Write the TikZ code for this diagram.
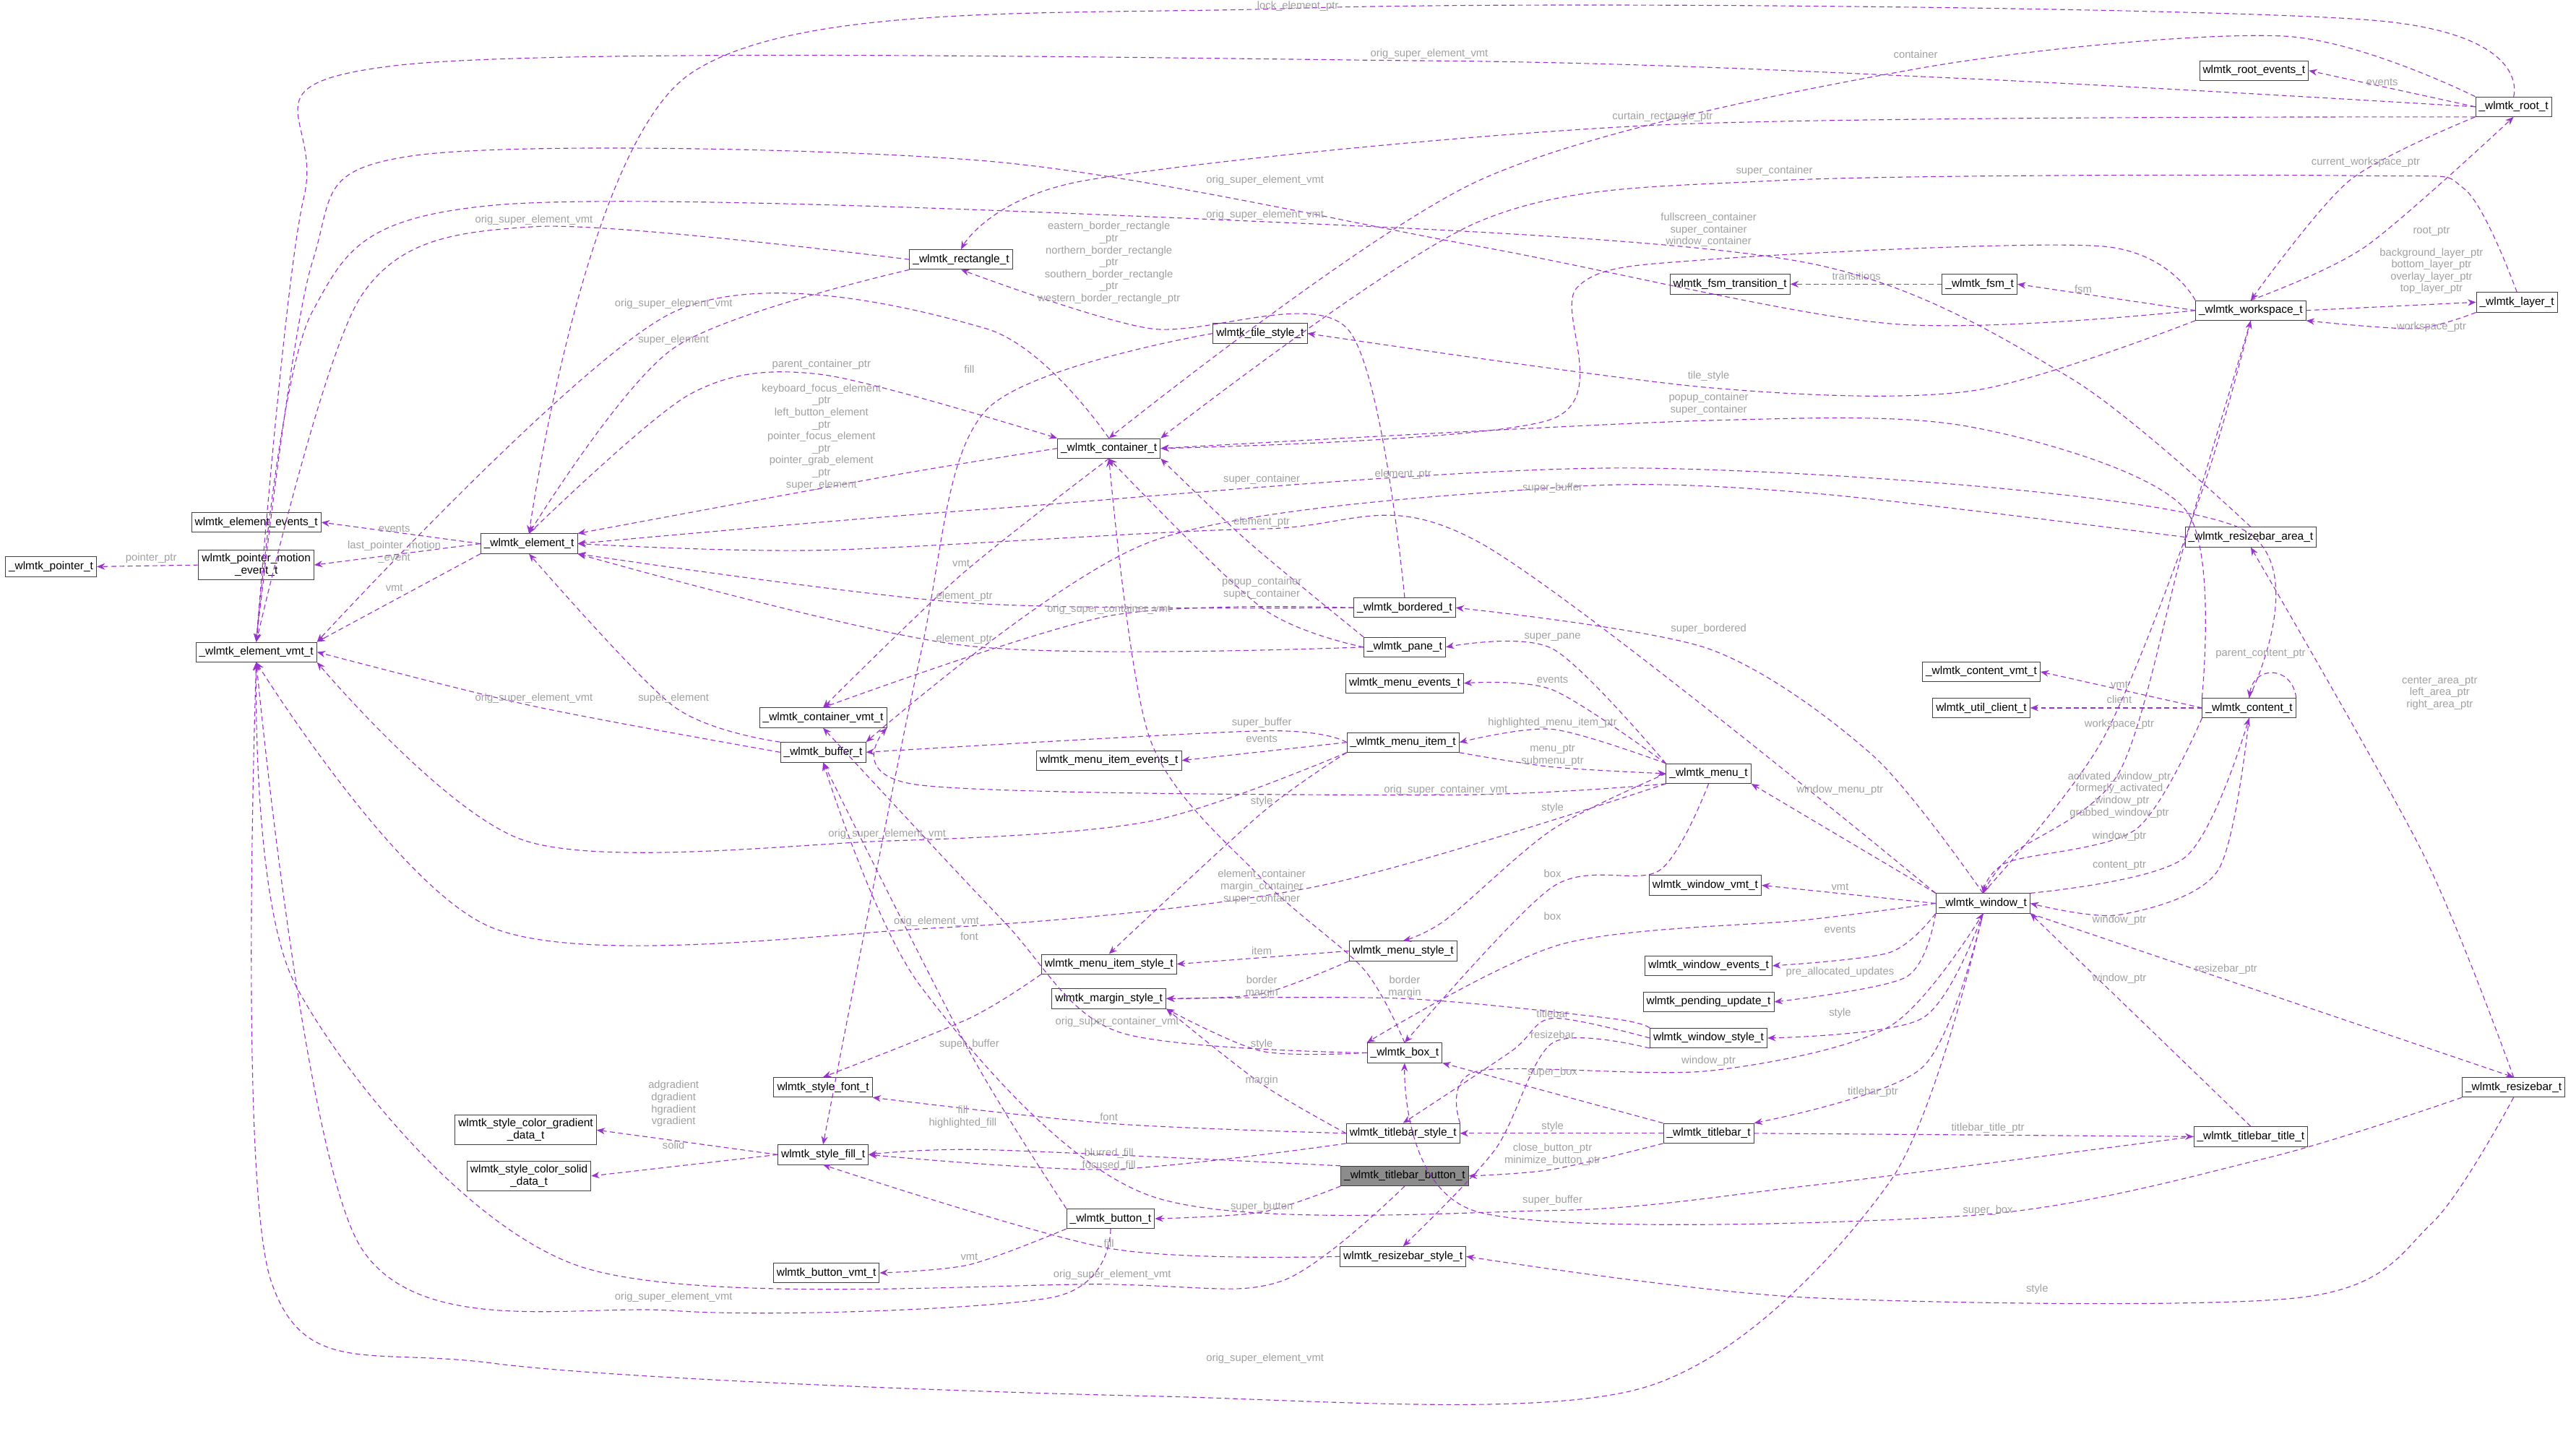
\documentclass[tikz,border=0pt]{standalone}
\usepackage{fontspec}
\setmainfont{Liberation Sans}
\usetikzlibrary{arrows.meta}
\definecolor{edgec}{HTML}{9A32CD}
\definecolor{lblc}{HTML}{A0A0A0}
\newcounter{lbc}
\newcommand\EL[2]{\stepcounter{lbc}\node[lbl] (lab\thelbc) at (#1) {#2};}
\tikzset{
 cls/.style={draw=black!75,fill=white,inner sep=2pt,minimum height=12pt,font=\fontsize{6.8}{7.6}\selectfont,align=center},
 lbl/.style={text=lblc,font=\fontsize{6.5}{7.3}\selectfont,align=center,inner sep=0pt},
 e/.style={draw=edgec,dashed,dash pattern=on 3pt off 2pt,line width=0.5pt,-{Stealth[length=5pt,width=4pt]}},
}
\begin{document}
\begin{tikzpicture}[x=1pt,y=-1pt]
\useasboundingbox (0,0) rectangle (1568,876);
% nodes
\node[cls] (root) at (1530,65) {\_wlmtk\_root\_t};
\node[cls] (rootev) at (1372,43) {wlmtk\_root\_events\_t};
\node[cls] (layer) at (1532,184) {\_wlmtk\_layer\_t};
\node[cls] (ws) at (1370,189) {\_wlmtk\_workspace\_t};
\node[cls] (fsm) at (1205,173) {\_wlmtk\_fsm\_t};
\node[cls] (fsmt) at (1053,173) {wlmtk\_fsm\_transition\_t};
\node[cls] (rba) at (1370,327) {\_wlmtk\_resizebar\_area\_t};
\node[cls] (cvmt) at (1206,409) {\_wlmtk\_content\_vmt\_t};
\node[cls] (ucl) at (1206,431) {wlmtk\_util\_client\_t};
\node[cls] (content) at (1369,431) {\_wlmtk\_content\_t};
\node[cls] (win) at (1207,550) {\_wlmtk\_window\_t};
\node[cls] (wvmt) at (1038,539) {wlmtk\_window\_vmt\_t};
\node[cls] (wev) at (1040,588) {wlmtk\_window\_events\_t};
\node[cls] (pend) at (1040,610) {wlmtk\_pending\_update\_t};
\node[cls] (wsty) at (1040,632) {wlmtk\_window\_style\_t};
\node[cls] (menu) at (1040,471) {\_wlmtk\_menu\_t};
\node[cls] (mitem) at (854,452) {\_wlmtk\_menu\_item\_t};
\node[cls] (msty) at (854,579) {wlmtk\_menu\_style\_t};
\node[cls] (box) at (855,641) {\_wlmtk\_box\_t};
\node[cls] (tbsty) at (854,690) {wlmtk\_titlebar\_style\_t};
\node[cls] (tbar) at (1040,690) {\_wlmtk\_titlebar\_t};
\node[cls,fill=black!45] (tbtn) at (855,716) {\_wlmtk\_titlebar\_button\_t};
\node[cls] (tbtitle) at (1370,692) {\_wlmtk\_titlebar\_title\_t};
\node[cls] (rbar) at (1530,662) {\_wlmtk\_resizebar\_t};
\node[cls] (rbsty) at (854,765) {wlmtk\_resizebar\_style\_t};
\node[cls] (btn) at (676,742) {\_wlmtk\_button\_t};
\node[cls] (btnvmt) at (503,775) {wlmtk\_button\_vmt\_t};
\node[cls] (fill) at (501,703) {wlmtk\_style\_fill\_t};
\node[cls] (font) at (501,662) {wlmtk\_style\_font\_t};
\node[cls] (grad) at (320,688) {wlmtk\_style\_color\_gradient\\\_data\_t};
\node[cls] (solid) at (322,716) {wlmtk\_style\_color\_solid\\\_data\_t};
\node[cls] (margin) at (675,608) {wlmtk\_margin\_style\_t};
\node[cls] (mistyle) at (675,587) {wlmtk\_menu\_item\_style\_t};
\node[cls] (miev) at (675,463) {wlmtk\_menu\_item\_events\_t};
\node[cls] (buf) at (501,458) {\_wlmtk\_buffer\_t};
\node[cls] (cvmtc) at (501,437) {\_wlmtk\_container\_vmt\_t};
\node[cls] (bord) at (855,370) {\_wlmtk\_bordered\_t};
\node[cls] (pane) at (855,394) {\_wlmtk\_pane\_t};
\node[cls] (mev) at (855,416) {wlmtk\_menu\_events\_t};
\node[cls] (cont) at (675,273) {\_wlmtk\_container\_t};
\node[cls] (tile) at (767,203) {wlmtk\_tile\_style\_t};
\node[cls] (rect) at (585,158) {\_wlmtk\_rectangle\_t};
\node[cls] (el) at (322,331) {\_wlmtk\_element\_t};
\node[cls] (elev) at (156,318) {wlmtk\_element\_events\_t};
\node[cls] (pme) at (156,344) {wlmtk\_pointer\_motion\\\_event\_t};
\node[cls] (ptr) at (31,345) {\_wlmtk\_pointer\_t};
\node[cls] (evmt) at (156,397) {\_wlmtk\_element\_vmt\_t};
% edges
\draw[e] plot[smooth] coordinates {(root.north) (1440,12) (790,5) (420,45) (el.north)}; \EL{790,4}{lock\_element\_ptr}
\draw[e] plot[smooth] coordinates {(root.west) (1200,48) (870,37) (240,40) (185,120) (evmt.north)}; \EL{870,33}{orig\_super\_element\_vmt}
\draw[e] plot[smooth] coordinates {(root.north west) (1390,22) (1166,42) (900,110) (cont.north)}; \EL{1166,33}{container}
\draw[e] plot[smooth] coordinates {(root.south west) (1012,76) (660,110) (rect.north)}; \EL{1012,71}{curtain\_rectangle\_ptr}
\draw[e] (root.west) -- (rootev.east); \EL{1450,50}{events}
\draw[e] plot[smooth] coordinates {(ws.north) (1440,150) (root.south)}; \EL{1480,141}{root\_ptr}
\draw[e] plot[smooth] coordinates {(root.south west) (1430,110) (ws.north)}; \EL{1440,99}{current\_workspace\_ptr}
\draw[e] (ws.east) -- (layer.west); \EL{1480,165}{background\_layer\_ptr\\bottom\_layer\_ptr\\overlay\_layer\_ptr\\top\_layer\_ptr}
\draw[e] plot[smooth] coordinates {(layer.south west) (1470,200) (ws.south east)}; \EL{1480,199}{workspace\_ptr}
\draw[e] plot[smooth] coordinates {(layer.north) (1500,115) (1440,107) (1080,110) (900,135) (cont.north east)}; \EL{1080,104}{super\_container}
\draw[e] plot[smooth] coordinates {(ws.north west) (1280,150) (1040,158) (960,175) (945,255) (cont.east)}; \EL{1040,140}{fullscreen\_container\\super\_container\\window\_container}
\draw[e] (ws.west) -- (fsm.east); \EL{1268,176}{fsm}
\draw[e] (fsm.west) -- (fsmt.east); \EL{1130,168}{transitions}
\draw[e] plot[smooth] coordinates {(ws.west) (1150,197) (900,150) (600,98) (250,95) (190,160) (evmt.north)}; \EL{770,110}{orig\_super\_element\_vmt}
\draw[e] plot[smooth] coordinates {(ws.south west) (1200,238) (1040,236) (tile.east)}; \EL{1040,229}{tile\_style}
\draw[e] plot[smooth] coordinates {(rba.north) (1260,230) (1100,160) (770,135) (300,125) (190,190) (evmt.north)}; \EL{770,131}{orig\_super\_element\_vmt}
\draw[e] plot[smooth] coordinates {(content.north west) (1330,310) (1200,260) (1040,256) (cont.east)}; \EL{1040,246}{popup\_container\\super\_container}
\draw[e] plot[smooth] coordinates {(content.north) (1360,320) (1000,285) (600,310) (el.east)}; \EL{854,289}{element\_ptr}
\draw[e] plot[smooth] coordinates {(rba.west) (1100,300) (945,297) (700,330) (buf.north east)}; \EL{945,297}{super\_buffer}
\draw[e] plot[smooth] coordinates {(pane.north west) (760,330) (cont.south east)}; \EL{768,292}{super\_container}
\draw[e] plot[smooth] coordinates {(win.north west) (900,330) (768,322) (500,335) (el.east)}; \EL{768,318}{element\_ptr}
\draw[e] (content.west) -- (cvmt.east); \EL{1290,417}{vmt}
\draw[e] (content.west) -- (ucl.east); \EL{1290,426}{client}
\draw[e] (content.north east) .. controls (1395,405) and (1372,405) .. (content.north); \EL{1376,398}{parent\_content\_ptr}
\draw[e] plot[smooth] coordinates {(win.north) (1280,450) (1340,300) (ws.south)}; \EL{1290,441}{workspace\_ptr}
\draw[e] plot[smooth] coordinates {(ws.south) (1330,330) (1290,470) (1225,520) (win.north)}; \EL{1290,484}{activated\_window\_ptr\\formerly\_activated\\\_window\_ptr\\grabbed\_window\_ptr}
\draw[e] plot[smooth] coordinates {(content.south west) (1300,505) (1222,525) (win.north)}; \EL{1290,509}{window\_ptr}
\draw[e] plot[smooth] coordinates {(win.north east) (1330,522) (content.south)}; \EL{1290,527}{content\_ptr}
\draw[e] plot[smooth] coordinates {(content.south) (1350,530) (1290,557) (win.east)}; \EL{1290,560}{window\_ptr}
\draw[e] (win.south east) -- (rbar.north); \EL{1355,590}{resizebar\_ptr}
\draw[e] plot[smooth] coordinates {(rbar.north) (1475,520) (rba.south)}; \EL{1485,422}{center\_area\_ptr\\left\_area\_ptr\\right\_area\_ptr}
\draw[e] plot[smooth] coordinates {(rbar.south) (1480,745) (1400,790) (1100,790) (rbsty.east)}; \EL{1240,785}{style}
\draw[e] plot[smooth] coordinates {(rbar.south west) (1380,705) (1200,740) (900,738) (box.south)}; \EL{1210,737}{super\_box}
\draw[e] (tbtitle.north) -- (win.south east); \EL{1290,596}{window\_ptr}
\draw[e] plot[smooth] coordinates {(tbtitle.west) (1100,722) (945,737) (700,728) (560,600) (buf.south)}; \EL{945,731}{super\_buffer}
\draw[e] (tbar.east) -- (tbtitle.west); \EL{1210,687}{titlebar\_title\_ptr}
\draw[e] plot[smooth] coordinates {(win.south) (1170,650) (tbar.north east)}; \EL{1140,665}{titlebar\_ptr}
\draw[e] plot[smooth] coordinates {(tbsty.north east) (900,652) (1040,652) (1150,625) (win.south)}; \EL{1040,646}{window\_ptr}
\draw[e] (tbar.west) -- (tbsty.east); \EL{945,686}{style}
\draw[e] plot[smooth] coordinates {(tbar.south west) (945,712) (tbtn.east)}; \EL{945,703}{close\_button\_ptr\\minimize\_button\_ptr}
\draw[e] (tbar.north west) -- (box.south east); \EL{945,653}{super\_box}
\draw[e] (win.west) -- (wvmt.east); \EL{1120,540}{vmt}
\draw[e] plot[smooth] coordinates {(win.south west) (1150,580) (wev.east)}; \EL{1120,566}{events}
\draw[e] plot[smooth] coordinates {(win.south west) (1160,595) (pend.east)}; \EL{1120,592}{pre\_allocated\_updates}
\draw[e] plot[smooth] coordinates {(win.south) (1170,620) (wsty.east)}; \EL{1120,617}{style}
\draw[e] plot[smooth] coordinates {(win.west) (1100,560) (950,575) (box.north west)}; \EL{945,558}{box}
\draw[e] (win.north west) -- (menu.south east); \EL{1120,481}{window\_menu\_ptr}
\draw[e] plot[smooth] coordinates {(win.north) (1140,460) (1040,395) (bord.east)}; \EL{1040,383}{super\_bordered}
\draw[e] plot[smooth] coordinates {(win.south) (1150,720) (1000,845) (700,850) (300,830) (165,780) (evmt.south)}; \EL{770,827}{orig\_super\_element\_vmt}
\draw[e] plot[smooth] coordinates {(wsty.west) (945,620) (920,640) (tbsty.north)}; \EL{945,617}{titlebar}
\draw[e] plot[smooth] coordinates {(wsty.south west) (945,635) (910,700) (rbsty.north)}; \EL{945,630}{resizebar}
\draw[e] plot[smooth] coordinates {(wsty.north west) (980,620) (855,608) (margin.east)}; \EL{855,601}{border\\margin}
\draw[e] plot[smooth] coordinates {(menu.west) (945,505) (880,560) (msty.north)}; \EL{945,492}{style}
\draw[e] plot[smooth] coordinates {(mitem.south west) (768,495) (mistyle.north)}; \EL{768,488}{style}
\draw[e] (msty.west) -- (mistyle.east); \EL{768,579}{item}
\draw[e] plot[smooth] coordinates {(msty.south west) (768,605) (margin.east)}; \EL{768,601}{border\\margin}
\draw[e] plot[smooth] coordinates {(menu.south) (1010,530) (945,540) (box.north)}; \EL{945,532}{box}
\draw[e] plot[smooth] coordinates {(menu.north west) (945,395) (pane.east)}; \EL{945,388}{super\_pane}
\draw[e] plot[smooth] coordinates {(menu.north west) (945,420) (mev.east)}; \EL{945,414}{events}
\draw[e] plot[smooth] coordinates {(menu.north west) (945,444) (mitem.east)}; \EL{945,440}{highlighted\_menu\_item\_ptr}
\draw[e] plot[smooth] coordinates {(mitem.south east) (945,467) (menu.west)}; \EL{945,460}{menu\_ptr\\submenu\_ptr}
\draw[e] (mitem.west) -- (miev.east); \EL{768,450}{events}
\draw[e] plot[smooth] coordinates {(mitem.west) (768,445) (buf.east)}; \EL{768,440}{super\_buffer}
\draw[e] plot[smooth] coordinates {(mitem.south west) (700,500) (540,512) (320,512) (evmt.south east)}; \EL{540,508}{orig\_super\_element\_vmt}
\draw[e] plot[smooth] coordinates {(menu.south west) (800,540) (570,565) (300,565) (evmt.south)}; \EL{570,561}{orig\_element\_vmt}
\draw[e] plot[smooth] coordinates {(menu.south west) (880,484) (560,478) (cvmtc.south east)}; \EL{880,481}{orig\_super\_container\_vmt}
\draw[e] plot[smooth] coordinates {(box.north) (830,590) (768,535) (700,450) (cont.south)}; \EL{768,540}{element\_container\\margin\_container\\super\_container}
\draw[e] plot[smooth] coordinates {(box.west) (680,628) (610,560) (cvmtc.south)}; \EL{680,622}{orig\_super\_container\_vmt}
\draw[e] plot[smooth] coordinates {(box.west) (768,640) (margin.south east)}; \EL{768,636}{style}
\draw[e] plot[smooth] coordinates {(tbsty.west) (768,660) (margin.south east)}; \EL{768,658}{margin}
\draw[e] plot[smooth] coordinates {(tbsty.west) (675,684) (font.south east)}; \EL{675,680}{font}
\draw[e] plot[smooth] coordinates {(tbsty.south west) (675,712) (fill.east)}; \EL{675,706}{blurred\_fill\\focused\_fill}
\draw[e] plot[smooth] coordinates {(tbtn.south west) (768,738) (btn.east)}; \EL{768,735}{super\_button}
\draw[e] plot[smooth] coordinates {(tbtn.north west) (600,700) (fill.east)}; \EL{586,680}{fill\\highlighted\_fill}
\draw[e] plot[smooth] coordinates {(tbtn.south) (780,780) (677,782) (350,770) (180,600) (evmt.south)}; \EL{677,776}{orig\_super\_element\_vmt}
\draw[e] plot[smooth] coordinates {(rbsty.west) (675,760) (fill.south)}; \EL{675,757}{fill}
\draw[e] plot[smooth] coordinates {(btn.south west) (590,770) (btnvmt.east)}; \EL{590,765}{vmt}
\draw[e] plot[smooth] coordinates {(btn.north west) (590,640) (buf.south)}; \EL{590,636}{super\_buffer}
\draw[e] plot[smooth] coordinates {(btn.south) (640,790) (410,798) (220,760) (evmt.south)}; \EL{410,790}{orig\_super\_element\_vmt}
\draw[e] plot[smooth] coordinates {(mistyle.south west) (590,620) (font.north)}; \EL{590,570}{font}
\draw[e] (fill.west) -- (grad.east); \EL{410,672}{adgradient\\dgradient\\hgradient\\vgradient}
\draw[e] (fill.west) -- (solid.east); \EL{410,697}{solid}
\draw[e] plot[smooth] coordinates {(tile.west) (600,250) (560,400) (fill.north)}; \EL{590,225}{fill}
\draw[e] plot[smooth] coordinates {(bord.north) (820,200) (700,200) (rect.south)}; \EL{675,160}{eastern\_border\_rectangle\\\_ptr\\northern\_border\_rectangle\\\_ptr\\southern\_border\_rectangle\\\_ptr\\western\_border\_rectangle\_ptr}
\draw[e] plot[smooth] coordinates {(pane.west) (768,370) (cont.south)}; \EL{768,358}{popup\_container\\super\_container}
\draw[e] plot[smooth] coordinates {(bord.west) (587,367) (el.south east)}; \EL{587,363}{element\_ptr}
\draw[e] plot[smooth] coordinates {(bord.west) (675,375) (cvmtc.north)}; \EL{675,371}{orig\_super\_container\_vmt}
\draw[e] plot[smooth] coordinates {(pane.west) (587,393) (el.south east)}; \EL{587,389}{element\_ptr}
\draw[e] plot[smooth] coordinates {(cont.west) (540,290) (el.north east)}; \EL{500,266}{keyboard\_focus\_element\\\_ptr\\left\_button\_element\\\_ptr\\pointer\_focus\_element\\\_ptr\\pointer\_grab\_element\\\_ptr\\super\_element}
\draw[e] plot[smooth] coordinates {(el.north) (420,240) (500,228) (cont.north west)}; \EL{500,222}{parent\_container\_ptr}
\draw[e] plot[smooth] coordinates {(cont.north) (600,200) (410,190) (evmt.north east)}; \EL{410,185}{orig\_super\_element\_vmt}
\draw[e] plot[smooth] coordinates {(cont.south) (585,350) (cvmtc.north)}; \EL{585,343}{vmt}
\draw[e] plot[smooth] coordinates {(rect.south west) (410,212) (el.north)}; \EL{410,207}{super\_element}
\draw[e] plot[smooth] coordinates {(rect.west) (325,138) (220,180) (evmt.north)}; \EL{325,134}{orig\_super\_element\_vmt}
\draw[e] (el.west) -- (elev.east); \EL{240,322}{events}
\draw[e] (el.west) -- (pme.east); \EL{240,336}{last\_pointer\_motion\\\_event}
\draw[e] (pme.west) -- (ptr.east); \EL{92,340}{pointer\_ptr}
\draw[e] (el.south west) -- (evmt.north east); \EL{240,358}{vmt}
\draw[e] plot[smooth] coordinates {(buf.north west) (410,430) (el.south)}; \EL{410,425}{super\_element}
\draw[e] plot[smooth] coordinates {(buf.west) (325,430) (evmt.east)}; \EL{325,425}{orig\_super\_element\_vmt}
\end{tikzpicture}
\end{document}
